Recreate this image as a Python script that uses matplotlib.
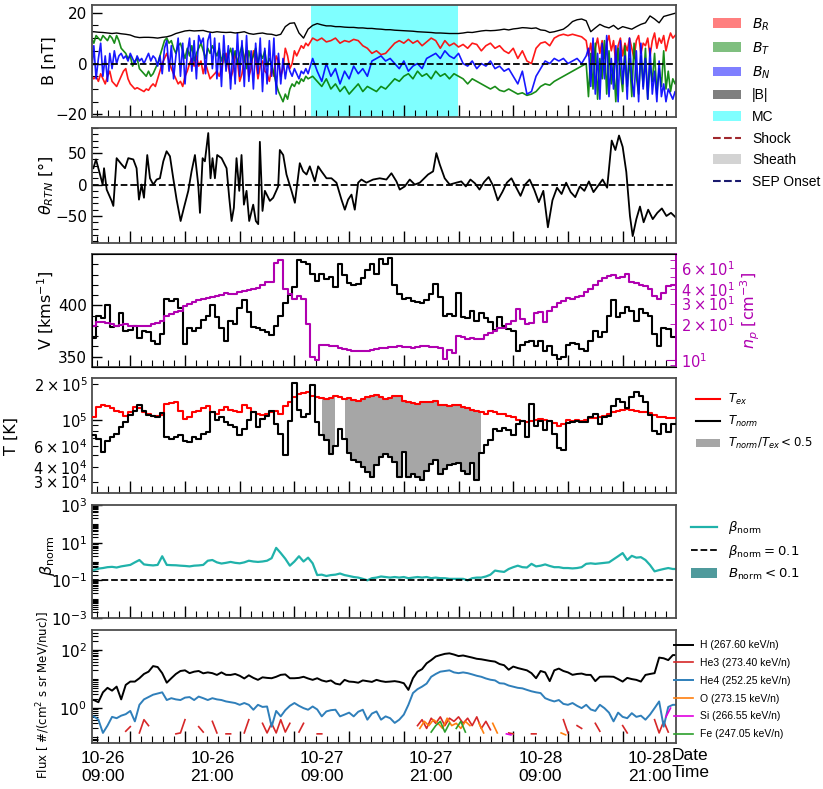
import numpy as np
import matplotlib
matplotlib.use("Agg")
import matplotlib.pyplot as plt
from matplotlib.patches import Patch
from matplotlib.lines import Line2D
from matplotlib.ticker import MultipleLocator, LogLocator, FixedLocator, NullFormatter

plt.rcParams['font.family'] = ['DejaVu Sans']
plt.rcParams['mathtext.fontset'] = 'dejavusans'
NARROW = ['Liberation Sans Narrow', 'Liberation Sans']
nan = np.nan

# ---------------- time bases: hours after 10-26 00:00 ----------------
t = 7.5 + 0.5 * np.arange(130)            # 30-min plasma / particle cadence
tB_early = 7.5 + 0.25 * np.arange(96)     # 15-min field samples before the MC
tB_mid = 31.5 + 0.5 * np.arange(62)       # 30-min field samples through the MC
tB_late = 62.25 + 0.25 * np.arange(40)    # 15-min field samples at the end

# ---------------- magnetic field components [nT] ----------------
B_R_early = [-4, -5, -6, -5, -7, -4, -6, -8,
             -5, -3, -7, -8, -9, -7, -5, -3,
             -2, -6, -8, -9, -10, -9.5, -10, -10.5,
             -11, -10, -10.5, -9, -8, -9, -6, -3,
             0, 2, 4, 1, -2, -4, -6, -8,
             -7, -9, -5, -3, 0, 2, -1, 3,
             -1, 1, -4, 0, -3, -6, -5, -4,
             -3, -5, -2, 2, 4, -1, -6, -3,
             4, 1, -7, -4, 2, 5, -5, -2,
             5, 2, -6, -1, 1, -3, -4, -7,
             -2, -5, 3, 1, -5, -2, 6, 3,
             -2, 0, 5, 3, 5, 7, 6, 8]
B_T_early = [9, 10, 8, 11, 10, 9, 11, 10,
             9, 11, 10, 8, 11, 9, 6, 5,
             4, 2, 3, -1, 1, 2, -2, -3,
             -4, -5, -3, -5, -4, -2, 0, 3,
             6, 9, 10, 8, 9, 6, 4, 7,
             8, 5, 2, 6, 3, 7, 1, 4,
             6, 8, 5, 2, 6, 4, 7, 5,
             3, 6, 1, 4, -1, 3, 6, 2,
             5, 0, 4, 7, 2, -2, 5, 1,
             3, 6, 0, 4, 2, 5, -1, 2,
             0, -4, -8, -11, -13, -15, -12, -14,
             -10, -8, -9, -7, -8, -6, -7, -5]
B_N_early = [5, -4, 7, -6, 2, 8, -5, 3,
             -7, 4, -2, 5, 0, 3, 4, 2,
             3, 1, 4, 2, 0, 3, 1, 2,
             0, 2, 4, 1, 3, 2, -1, 3,
             -4, 6, 9, -3, 7, -6, 3, 10,
             -5, 8, -8, 4, 10, -3, 9, -6,
             11, 8, 10, -4, 9, 12, -2, 10,
             -6, 8, -9, 11, -3, 7, -10, 6,
             -8, 12, -5, 9, -9, 11, -7, 5,
             -10, 8, -4, 10, -11, 6, -8, 9,
             -5, 10, -12, 4, -8, 2, -6, 0,
             -3, -5, -2, -4, -6, -3, -4, -2]
B_R_mid = [7, 10,
           9, 10, 8.5, 9, 10, 8, 9, 8.5, 9.5, 9,
           7, 6, 4, 5, 3.5, 4, 6, 8, 9, 8,
           9.5, 8, 9, 7, 8.5, 10, 9, 6, 9, 7,
           8, 6.5, 7.5, 6, 8, 7.5, 5, 7, 8, 6,
           7, 5, 4, 6, 2, 5, 1, 0, 6, 8,
           8.5, 7, 10, 11, 11.5, 11, 11.5, 11, 10.5, 9]
B_T_mid = [-6, -5,
           -7, -9, -6, -10, -8, -11, -9, -12, -10, -8,
           -11, -9, -10, -11, -9, -10, -8, -6, -7, -5,
           -4, -6, -3, -5, -4, -6, -3, -5, -4, -6,
           -4, -5, -6, -8, -6, -7, -8, -9, -10, -9,
           -10.5, -11, -10, -11, -12, -11.5, -12.5, -12, -11, -9,
           -8, -8.5, -7, -6, -5, -4, -3, -2, -1, 0]
B_N_mid = [-4, 2,
           -3, -7, 0, -5, -2, -8, -3, -6, -1, -4,
           -2, -5, 1, 2, 3, 1, 2, 0, -2, 1,
           -3, -1, 0, -2, 2, 3, 4, 2, 5, 3,
           2, 4, 0, -1, 1, -2, 0, -1, 1, -2,
           -1, -3, -2, -5, -8, -3, -12, -11, -5, -2,
           1, 0, 2, 1, 2, 0, 1, 2, 0, 3]
B_R_late = [3, 8, 0, 6, 10, 4, 9, 2, 8, 11,
            5, 9, 0, 7, 10, 3, 8, 5, 10, 6,
            2, 9, 11, 4, 8, 7, 10, 3, 9, 12,
            6, 10, 8, 11, 5, 9, 12, 10, 11, 12]
B_T_late = [-13, 4, -10, 8, -14, 2, -6, 9, -12, 5,
            -8, 0, -15, 6, -3, -11, 7, -9, 2, -13,
            8, -5, -12, 3, -9, 6, -14, 0, -7, 4,
            -12, -2, -9, 5, -10, -3, -11, -6, -8, -5]
B_N_late = [6, -9, 10, -12, 4, -14, 8, -6, 11, -13,
            2, -10, 7, -15, 9, -8, 3, -14, 10, -6,
            -13, 5, -15, 8, -10, 2, -14, 6, -12, -3,
            -15, 1, -13, -8, -15, -10, -12, -14, -11, -13]
B_mag = [12.5, 12.5, 12.3, 12.2, 12.0, 11.8, 12.0, 11.7, 11.5, 11.2,
         10.5, 10.2, 10.3, 10.3, 10.2, 10.0, 10.3, 10.5, 11.0, 11.8,
         12.3, 12.8, 13.0, 12.8, 12.9, 13.0, 12.5, 12.2, 12.5, 12.3,
         12.2, 12.3, 12.0, 12.2, 12.5, 11.8, 11.5, 11.8, 12.0, 11.6,
         11.5, 11.0, 11.5, 14.5, 15.8, 16.0, 12.0, 10.0, 13.5, 15.0,
         15.7, 15.2, 14.8, 14.8, 14.5, 14.5, 14.3, 14.2, 14.2, 14.0,
         14.0, 13.8, 13.8, 13.6, 13.5, 13.3, 13.3, 13.1, 13.0, 12.9,
         12.8, 12.7, 12.5, 12.4, 12.3, 12.2, 12.0, 12.0, 11.9, 11.8,
         11.8, 11.8, 12.0, 12.3, 12.2, 12.5, 12.8, 13.0, 12.9, 13.0,
         13.2, 13.5, 13.2, 13.6, 13.8, 14.1, 14.0, 13.8, 14.0, 13.2,
         13.0, 12.2, 12.5, 13.0, 13.5, 14.8, 16.5, 17.2, 17.5, 16.8,
         12.5, 14.0, 15.4, 14.5, 14.0, 15.0, 13.5, 14.5, 14.0, 13.5,
         14.5, 15.4, 16.0, 18.7, 17.5, 16.0, 18.5, 19.0, 19.5, 20.0]
MC_START, MC_END = 31.8, 47.9

# ---------------- field latitude angle [deg] ----------------
theta_t = [7.95, 8.24, 8.68, 8.97, 9.12, 9.41, 9.95, 10.14, 10.50, 11.05,
           11.42, 11.78, 12.33, 12.69, 12.95, 13.24, 13.50, 13.86, 14.16, 14.52,
           14.89, 15.25, 15.62, 15.98, 16.35, 16.71, 17.08, 17.52, 17.88, 18.36,
           18.72, 19.09, 19.45, 19.64, 19.93, 20.18, 20.55, 20.80, 21.02, 21.28,
           21.53, 22.01, 22.56, 22.85, 23.11, 23.36, 23.65, 23.95, 24.20, 24.46,
           24.75, 25.04, 25.48, 25.77, 26.03, 26.21, 26.50, 26.76, 27.31, 27.67,
           28.22, 28.40, 28.77, 29.13, 29.68, 30.05, 30.59, 30.96, 31.33, 31.69,
           32.24, 32.60, 32.97, 33.52, 34.06, 34.61, 35.16, 35.53, 35.89, 36.26,
           36.62, 36.99, 37.35, 37.90, 38.63, 39.36, 40.09, 40.64, 41.19, 41.55,
           42.10, 42.65, 43.20, 43.75, 44.66, 45.21, 45.57, 45.94, 46.48, 47.03,
           47.76, 48.3, 48.8, 49.3, 49.8, 50.3, 50.8, 51.3, 51.8, 52.3,
           52.8, 53.3, 53.8, 54.3, 54.8, 55.3, 55.8, 56.3, 56.8, 57.3,
           57.8, 58.3, 58.8, 59.3, 59.8, 60.3, 60.8, 61.3, 61.8, 62.3,
           62.8, 63.3, 63.8, 64.3, 64.8, 65.2, 65.6, 66.0, 66.4, 66.8,
           67.1, 67.5, 67.9, 68.3, 68.8, 69.3, 69.8, 70.3, 70.8, 71.3, 71.8]
theta = [26, 40, 16, 0, 26, -8, -26, -34, 42, 32,
         26, 42, 40, 26, -24, 0, -21, 47, 10, 0,
         8, 10, 37, 53, 45, 10, -24, -58, -37, -10,
         21, 47, 0, -45, 42, 37, 82, 10, 42, 10,
         47, 42, 26, -21, -58, -37, 42, -10, 47, -32,
         -10, -58, -32, -58, -63, 68, -42, -10, -26, -21,
         -3, 55, 47, 16, -10, -29, 34, 21, 16, 29,
         5, 29, 21, 10, 10, 3, -24, -40, -24, -16,
         -40, 3, 8, 3, 8, 10, 8, 18, 5, -8,
         -3, 8, 0, 3, 16, 21, 50, 32, 10, 0,
         3, 5, -3, 8, 2, -8, 4, 12, -2, -25,
         -12, 3, 10, -4, -18, 0, 8, -8, -28, -10,
         -68, -25, -5, -15, 3, -12, -20, -3, -10, 5,
         -12, -2, 8, -5, 70, 55, 78, 60, 20, -50,
         -82, -55, -35, -60, -40, -55, -45, -38, -50, -45, -52]

# ---------------- bulk speed [km/s] and proton density [cm^-3] ----------------
V = [368, 368, 390, 388, 400, 379, 380, 393, 375, 376,
     380, 368, 375, 374, 365, 362, 372, 406, 404, 406,
     397, 362, 378, 375, 378, 386, 390, 400, 389, 378,
     365, 385, 382, 397, 405, 394, 379, 378, 376, 374,
     371, 380, 390, 402, 410, 418, 444, 442, 440, 431,
     424, 431, 426, 428, 418, 440, 430, 422, 420, 421,
     427, 434, 440, 431, 445, 440, 446, 420, 411, 406,
     407, 404, 403, 402, 405, 411, 421, 408, 390, 392,
     390, 412, 389, 388, 395, 385, 393, 388, 384, 376,
     389, 380, 377, 375, 356, 361, 364, 365, 360, 365,
     356, 360, 352, 348, 350, 361, 363, 362, 358, 356,
     365, 375, 369, 374, 390, 405, 389, 393, 398, 395,
     385, 396, 393, 390, 372, 360, 378, 377, 369, 369]
n_p = [19, 19.3, 21, 21, 20.6, 20, 19.3, 19.8, 20, 19.5,
       19.3, 19.3, 19.3, 19.5, 20, 20.5, 21.5, 23.5, 24.5, 25.3,
       26, 28.5, 30, 30.8, 32, 33, 33.7, 34.2, 34.9, 35.5,
       37, 36.5, 36, 37.5, 38.5, 39, 39.8, 41, 43, 45.4,
       46, 66, 70, 40, 36, 33, 35, 33, 20, 10.5,
       10, 13.4, 13.4, 13.2, 13, 12.6, 12.4, 12.2, 12, 11.9,
       11.8, 12, 12.2, 12.3, 12.5, 12.6, 12.8, 12.9, 13, 12.8,
       12.8, 12.6, 12.8, 13, 13, 12.9, 12.8, 12.6, 10.2, 12.2,
       11.5, 16, 15.5, 15, 15.3, 15, 15, 16.4, 17, 17.5,
       18.7, 18.8, 20, 21.3, 27, 22, 20, 20.5, 25, 25.5,
       21, 26, 28, 30.6, 31.5, 33.7, 33, 34, 35, 37.3,
       40, 43.5, 46.9, 49, 51, 52, 49, 50, 53.5, 46,
       45, 43, 42, 40, 35, 33, 37, 42, 43, 43]

# ---------------- temperatures [10^3 K] ----------------
T_ex = [105, 105, 127, 132, 130, 125, 119, 115, 108, 115,
        127, 125, 115, 112, 108, 108, 110, 136, 138, 140,
        119, 102, 105, 115, 119, 125, 130, 115, 112, 120,
        127, 120, 119, 115, 132, 125, 115, 112, 110, 112,
        115, 119, 112, 130, 140, 155, 165, 168, 170, 160,
        154, 152, 149, 152, 158, 155, 149, 152, 146, 145,
        150, 154, 158, 163, 155, 149, 152, 158, 160, 145,
        140, 138, 136, 140, 140, 142, 145, 132, 134, 130,
        132, 132, 127, 125, 120, 119, 116, 112, 119, 115,
        112, 112, 108, 106, 100, 97, 95, 98, 100, 101,
        99, 98, 93, 89, 92, 100, 98, 99, 97, 100,
        104, 103, 105, 108, 112, 115, 119, 121, 123, 121,
        119, 117, 115, 113, 110, 106, 105, 103, 104, 104]
T_norm = [74, 74, 69, 53, 66, 71, 76, 86, 95, 110,
          119, 132, 118, 110, 107, 105, 114, 72, 69, 71,
          74, 66, 65, 71, 69, 76, 78, 115, 100, 105,
          95, 90, 86, 74, 84, 100, 115, 87, 102, 108,
          119, 92, 76, 50, 98, 205, 120, 105, 112, 195,
          95, 74, 67, 51, 60, 84, 69, 52, 46, 44,
          40, 36, 33, 41, 48, 51, 48, 44, 33, 53,
          33, 35, 33, 31, 37, 42, 46, 35, 38, 41,
          42, 43, 37, 35, 43, 31, 52, 61, 67, 84,
          80, 85, 82, 74, 92, 98, 72, 136, 88, 98,
          81, 98, 76, 58, 55, 93, 95, 98, 96, 95,
          105, 112, 92, 106, 108, 130, 150, 140, 126, 155,
          170, 158, 140, 110, 80, 76, 92, 78, 92, 92]

# ---------------- plasma beta ----------------
beta = [0.35, 0.35, 0.42, 0.45, 0.5, 0.52, 0.48, 0.55, 0.6, 0.66,
        0.9, 1.2, 0.7, 0.65, 0.62, 0.66, 1.9, 0.66, 0.64, 0.63,
        0.6, 0.58, 0.55, 0.6, 0.62, 0.66, 1.1, 1.2, 0.9, 0.78,
        0.85, 0.95, 0.85, 0.8, 0.9, 1.1, 1.0, 0.95, 1.0, 1.1,
        1.5, 5.3, 2.8, 1.4, 0.6, 1.0, 1.9, 1.0, 1.6, 0.8,
        0.19, 0.2, 0.17, 0.19, 0.2, 0.23, 0.19, 0.17, 0.15, 0.14,
        0.12, 0.1, 0.13, 0.14, 0.16, 0.15, 0.14, 0.15, 0.14, 0.15,
        0.13, 0.14, 0.15, 0.14, 0.15, 0.13, 0.14, 0.13, 0.13, 0.12,
        0.12, 0.12, 0.12, 0.1, 0.13, 0.14, 0.14, 0.16, 0.2, 0.33,
        0.3, 0.28, 0.4, 0.5, 0.6, 0.5, 0.48, 0.75, 0.55, 0.6,
        0.7, 0.58, 0.5, 0.5, 0.45, 0.45, 0.43, 0.45, 0.5, 0.75,
        0.8, 0.75, 0.8, 0.85, 0.9, 1.3, 1.9, 2.8, 1.2, 2.0,
        1.6, 1.7, 1.2, 0.65, 0.3, 0.35, 0.4, 0.45, 0.4, 0.4]

# ---------------- energetic particle fluxes ----------------
flux_H = [1.9, 1.9, 1.6, 3.5, 5, 4, 5.5, 2.0, 6.3, 8.2,
          8.2, 10.7, 15, 18, 28, 26, 16, 7.5, 10.7, 15,
          19, 20, 16, 18, 19, 15.8, 17, 16, 13.9, 17,
          14, 13.9, 15, 13, 10.5, 13.5, 11, 9.4, 11.5, 11,
          10.7, 12, 14, 14.5, 10.7, 10.7, 11, 12, 10.5, 9.4,
          10.7, 9, 8.2, 9, 7, 6.5, 9.4, 8.2, 8, 7.5,
          9, 8.5, 8, 9.4, 8.5, 8, 8.2, 8.5, 8, 7.2,
          4.25, 10.7, 18, 22, 35, 45, 60, 67, 74, 77,
          70, 62, 65, 60, 55, 50, 48, 45, 42, 40,
          33, 30, 21, 27, 24, 22, 20, 16, 10.7, 19,
          17, 8.5, 20, 23, 19, 17, 14, 15, 15.5, 14,
          13.9, 8.5, 12, 12.2, 12.2, 12, 10, 8.2, 11, 10,
          9.4, 8.2, 13.9, 15, 16, 55, 52, 45, 67, 67]
flux_He4 = [0.5, 0.52, 0.4, 0.14, 0.25, 0.5, 0.45, 0.55, 0.62, 0.8,
            0.35, 1.3, 2.0, 2.4, 2.9, 3.2, 3.5, 1.9, 2.2, 2.0,
            1.9, 2.3, 2.4, 1.9, 2.5, 2.2, 1.9, 2.2, 2.0, 1.9,
            1.7, 1.6, 1.5, 1.3, 1.5, 1.3, 0.88, 1.3, 1.1, 1.14,
            0.23, 0.8, 0.52, 0.85, 1.2, 1.5, 1.2, 1.0, 0.88, 1.14,
            0.9, 0.52, 0.77, 0.85, 0.88, 0.52, 0.6, 0.7, 0.52, 0.75,
            0.88, 0.4, 0.65, 0.77, 0.4, 0.52, 0.45, 0.31, 0.4, 0.6,
            1.3, 3.3, 4.5, 5.5, 7, 12, 15, 18, 19, 20,
            17, 16, 17, 16, 14.5, 13, 12, 10.5, 9.5, 9,
            7.2, 7, 6, 5.5, 5, 4.8, 4.25, 3.8, 3.5, 3.3,
            2.2, 1.9, 1.7, 1.9, 1.4, 1.3, 1.5, 1.2, 1.0, 1.3,
            0.9, 0.8, 1.3, 1.0, 0.7, 0.35, 0.7, 0.5, 0.45, 0.67,
            0.5, 0.55, 0.4, 0.6, 1.0, 1.7, 0.23, 1.1, 1.3, 1.3]
# sparse heavy-ion channels (gaps where no counts)
He3_t = [11.5, 12.0, nan, 13.0, 13.5, 14.0, nan, 17.0, 17.5, 18.0, nan,
         19.5, 20.0, nan, 21.0, 21.5, nan, 22.5, 23.0, nan, 24.5, 25.0, nan,
         26.5, 27.0, 27.5, 28.0, 28.5, 29.0, 29.5, nan, 30.5, 31.0, nan,
         32.5, 33.0, nan,
         43.5, 44.0, 44.5, 45.0, 45.5, 46.0, 46.5, 47.0, 47.5, 48.0, 48.5,
         49.0, 49.5, 50.0, 50.5, 51.0, 51.5, nan,
         53.5, 54.0, nan, 56.0, 56.5, nan, 59.5, 60.0, nan, 61.0, 61.5, nan,
         63.0, 63.5, nan, 66.0, 66.5, nan, 69.5, 70.0, 70.5, 71.0]
He3_v = [0.16, 0.23, nan, 0.14, 0.4, 0.25, nan, 0.13, 0.14, 0.4, nan,
         0.23, 0.15, nan, 0.35, 0.14, nan, 0.13, 0.13, nan, 0.14, 0.4, nan,
         0.3, 0.14, 0.3, 0.14, 0.4, 0.15, 0.3, nan, 0.15, 0.3, nan,
         0.13, 0.13, nan,
         0.25, 0.4, 0.2, 0.45, 0.3, 0.5, 0.25, 0.45, 0.35, 0.5, 0.3,
         0.45, 0.25, 0.5, 0.2, 0.35, 0.18, nan,
         0.14, 0.13, nan, 0.13, 0.13, nan, 0.4, 0.14, nan, 0.25, 0.2, nan,
         0.3, 0.16, nan, 0.25, 0.14, nan, 0.4, 0.14, 0.35, 0.15]
O_t = [43.75, 44.25, 44.75, 45.25, 45.75, 46.25, 46.75, 47.25, 47.75, 48.25,
       48.75, 49.25, nan, 50.25, 50.75, nan, 51.75, 52.25, nan, 59.25, 59.75]
O_v = [0.2, 0.35, 0.25, 0.4, 0.3, 0.2, 0.45, 0.25, 0.3, 0.2,
       0.35, 0.25, nan, 0.3, 0.14, nan, 0.3, 0.14, nan, 0.14, 0.12]
Fe_t = [45.0, 45.5, 46.0, 46.5, 47.0, nan, 47.75, 48.25, 48.75]
Fe_v = [0.15, 0.25, 0.35, 0.15, 0.3, nan, 0.2, 0.35, 0.15]
Si_t = [53.25, 53.75, nan, 70.75, 71.25]
Si_v = [0.13, 0.12, nan, 0.5, 1.0]
flux_labels = ['H (267.60 keV/n)', 'He3 (273.40 keV/n)', 'He4 (252.25 keV/n)',
               'O (273.15 keV/n)', 'Si (266.55 keV/n)', 'Fe (247.05 keV/n)']

# ---------------- date tick labels ----------------
date_hours = [9, 21, 33, 45, 57, 69]
date_labels = ['10-26\n09:00', '10-26\n21:00', '10-27\n09:00',
               '10-27\n21:00', '10-28\n09:00', '10-28\n21:00']

# =====================================================================
W_PX, H_PX = 823, 789
fig = plt.figure(figsize=(W_PX / 100, H_PX / 100), dpi=100)
rows = [(5, 117), (128, 243), (254, 367), (378, 493), (505, 618), (630, 743)]
axes = []
for top, bot in rows:
    ax = fig.add_axes([92 / W_PX, 1 - bot / H_PX, 584 / W_PX, (bot - top) / H_PX],
                      sharex=axes[0] if axes else None)
    axes.append(ax)
ax1, ax2, ax3, ax4, ax5, ax6 = axes

for ax in axes:
    ax.tick_params(axis='both', which='both', direction='in', top=False, right=False)
    ax.tick_params(axis='x', which='major', length=9, width=1.0, labelbottom=False)
    ax.tick_params(axis='x', which='minor', length=5, width=0.8)
    ax.tick_params(axis='y', which='major', length=7, width=1.0, labelsize=11)
    ax.tick_params(axis='y', which='minor', length=4, width=0.8)
    for s in ax.spines.values():
        s.set_color('#4d4d4d')
        s.set_linewidth(1.3)
ax1.xaxis.set_major_locator(MultipleLocator(6))
ax1.xaxis.set_minor_locator(MultipleLocator(1.2))
ax1.set_xlim(7.8, 71.85)

YL = dict(fontsize=11.5)

# ---- panel 1: B components ----
tB = np.concatenate([tB_early, tB_mid, tB_late])
B_R = B_R_early + B_R_mid + B_R_late
B_T = B_T_early + B_T_mid + B_T_late
B_N = B_N_early + B_N_mid + B_N_late
ax1.axvspan(MC_START, MC_END, color='cyan', alpha=0.5, lw=0, zorder=0)
ax1.plot(tB, B_R, color='red', lw=1.2, alpha=0.9)
ax1.plot(tB, B_T, color='green', lw=1.2, alpha=0.9)
ax1.plot(tB, B_N, color='blue', lw=1.2, alpha=0.9)
ax1.plot(t, B_mag, color='black', lw=1.0)
ax1.axhline(0, color='black', ls='--', lw=1.3)
ax1.set_ylim(-21, 23)
ax1.set_yticks([-20, 0, 20])
ax1.yaxis.set_minor_locator(MultipleLocator(5))
ax1.set_ylabel('B [nT]', **YL)
ax1.yaxis.set_label_coords(-0.06, 0.5)
h1 = [Patch(facecolor='red', alpha=0.5, label='$B_R$'),
      Patch(facecolor='green', alpha=0.5, label='$B_T$'),
      Patch(facecolor='blue', alpha=0.5, label='$B_N$'),
      Patch(facecolor='black', alpha=0.5, label='|B|'),
      Patch(facecolor='cyan', alpha=0.5, label='MC'),
      Line2D([], [], color='#a0282d', ls='--', lw=1.5, label='Shock'),
      Patch(facecolor='lightgray', label='Sheath'),
      Line2D([], [], color='#1a1a6e', ls='--', lw=1.5, label='SEP Onset')]
ax1.legend(handles=h1, loc='upper left', bbox_to_anchor=(1.054, 0.95), frameon=False,
           prop={'family': NARROW, 'size': 10}, labelspacing=0.55, handlelength=2.0,
           handleheight=0.7, handletextpad=0.8, borderaxespad=0)

# ---- panel 2: theta ----
ax2.plot(theta_t, theta, color='black', lw=1.3)
ax2.axhline(0, color='black', ls='--', lw=1.3)
ax2.set_ylim(-93, 90)
ax2.set_yticks([-50, 0, 50])
ax2.yaxis.set_minor_locator(MultipleLocator(10))
ax2.set_ylabel(r'$\theta_{RTN}$ [°]', **YL)
ax2.yaxis.set_label_coords(-0.062, 0.5)

# ---- panel 3: V and n_p ----
MAG = '#b000b0'
ax3.plot(t, V, color='black', lw=1.5, drawstyle='steps-mid', zorder=3)
ax3.set_ylim(340, 450)
ax3.set_yticks([350, 400])
ax3.yaxis.set_minor_locator(MultipleLocator(10))
ax3.set_ylabel('V [kms$^{-1}$]', **YL)
ax3.yaxis.set_label_coords(-0.062, 0.5)
ax3r = ax3.twinx()
ax3r.plot(t, n_p, color=MAG, lw=1.5, drawstyle='steps-mid')
ax3r.set_yscale('log')
ax3r.set_ylim(8.7, 79)
ax3r.tick_params(axis='y', which='both', direction='in', colors=MAG, labelsize=10.5)
ax3r.tick_params(axis='y', which='major', length=7)
ax3r.tick_params(axis='y', which='minor', length=4)
ax3r.spines['right'].set_color(MAG)
ax3r.spines['right'].set_linewidth(1.3)
ax3r.set_ylabel('$n_p$ [cm$^{-3}$]', color=MAG, labelpad=3, **YL)

# ---- panel 4: temperatures ----
Tex = np.array(T_ex) * 1e3
Tn = np.array(T_norm) * 1e3
ax4.fill_between(t, Tn, Tex, where=(Tn / Tex < 0.5), step='mid', color='#a6a6a6',
                 lw=0, zorder=1)
ax4.plot(t, Tex, color='red', lw=1.5, drawstyle='steps-mid', zorder=3)
ax4.plot(t, Tn, color='black', lw=1.5, drawstyle='steps-mid', zorder=4)
ax4.set_yscale('log')
ax4.set_ylim(2.4e4, 2.25e5)
ax4.tick_params(axis='y', which='both', labelsize=10.5)
ax4.set_ylabel('T [K]', **YL)
ax4.yaxis.set_label_coords(-0.125, 0.5)
h4 = [Line2D([], [], color='red', lw=1.5, label='$T_{ex}$'),
      Line2D([], [], color='black', lw=1.5, label='$T_{norm}$'),
      Patch(facecolor='#a6a6a6', label='$T_{norm}/T_{ex} < 0.5$')]
ax4.legend(handles=h4, loc='upper left', bbox_to_anchor=(1.026, 0.92), frameon=False,
           fontsize=8.5, labelspacing=0.6, handlelength=2.0, handletextpad=0.7,
           borderaxespad=0)

# ---- panel 5: beta ----
ax5.plot(t, beta, color='#20b2aa', lw=1.6)
ax5.axhline(0.1, color='black', ls='--', lw=1.3)
ax5.set_yscale('log')
ax5.set_ylim(1e-3, 1e3)
ax5.yaxis.set_major_locator(FixedLocator([1e-3, 1e-1, 1e1, 1e3]))
ax5.yaxis.set_minor_locator(LogLocator(base=10, subs=np.arange(1, 10), numticks=100))
ax5.yaxis.set_minor_formatter(NullFormatter())
ax5.set_ylabel(r'$\beta_{\rm norm}$', **YL)
ax5.yaxis.set_label_coords(-0.06, 0.55)
h5 = [Line2D([], [], color='#20b2aa', lw=1.6, label=r'$\beta_{\rm norm}$'),
      Line2D([], [], color='black', ls='--', lw=1.3, label=r'$\beta_{\rm norm} = 0.1$'),
      Patch(facecolor='#4f9a9c', label=r'$B_{\rm norm} < 0.1$')]
ax5.legend(handles=h5, loc='upper left', bbox_to_anchor=(1.016, 0.92), frameon=False,
           fontsize=9.5, labelspacing=0.5, handlelength=2.0, borderaxespad=0)

# ---- panel 6: particle fluxes ----
ax6.plot(t, flux_H, color='black', lw=1.4, label=flux_labels[0])
ax6.plot(He3_t, He3_v, color='#d62728', lw=1.2, label=flux_labels[1])
ax6.plot(t, flux_He4, color='#2f7fba', lw=1.4, label=flux_labels[2])
ax6.plot(O_t, O_v, color='#ff7f0e', lw=1.2, label=flux_labels[3])
ax6.plot(Si_t, Si_v, color='#e000e0', lw=1.2, label=flux_labels[4])
ax6.plot(Fe_t, Fe_v, color='#2ca02c', lw=1.2, label=flux_labels[5])
ax6.set_yscale('log')
ax6.set_ylim(0.063, 490)
ax6.yaxis.set_major_locator(FixedLocator([1, 100]))
ax6.yaxis.set_minor_locator(LogLocator(base=10, subs=np.arange(1, 10), numticks=100))
ax6.yaxis.set_minor_formatter(NullFormatter())
ax6.set_ylabel('Flux [ #/(cm$^2$ s sr MeV/nuc)]', fontsize=8.5)
ax6.yaxis.set_label_coords(-0.068, 0.42)
ax6.legend(loc='upper left', bbox_to_anchor=(0.9887, 0.947), frameon=False,
           prop={'family': NARROW, 'size': 7.5}, labelspacing=0.75, handlelength=1.9,
           handletextpad=0.6, borderaxespad=0)

sec = ax6.secondary_xaxis('bottom')
sec.set_ticks(date_hours, labels=date_labels)
sec.tick_params(axis='x', length=0, pad=6, labelsize=12.5)
for lab in sec.get_xticklabels():
    lab.set_fontfamily(NARROW)
sec.spines['bottom'].set_visible(False)
fig.text(672 / W_PX, 1 - 748 / H_PX, 'Date\nTime', ha='left', va='top',
         fontsize=12.5, family=NARROW, linespacing=1.2)

fig.savefig('out.png', dpi=100)
